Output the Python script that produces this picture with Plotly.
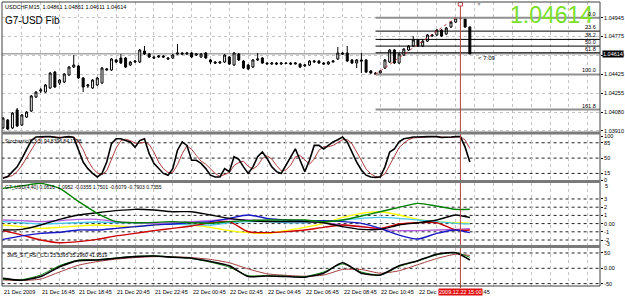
import plotly.graph_objects as go

# ---------------- data ----------------
bars = list(range(100))          # M15 bars, 21 Dec 2009 14:45 ... 22 Dec 2009 15:30
opens = [1.03935,1.04008,1.03935,1.04100,1.03962,1.04035,1.04090,1.04218,1.04273,1.04264,
 1.04301,1.04447,1.04347,1.04356,1.04420,1.04493,1.04503,1.04393,1.04319,1.04301,
 1.04329,1.04347,1.04466,1.04466,1.04558,1.04576,1.04576,1.04512,1.04539,1.04539,
 1.04640,1.04612,1.04585,1.04585,1.04594,1.04576,1.04576,1.04612,1.04622,1.04612,
 1.04622,1.04603,1.04585,1.04622,1.04558,1.04539,1.04530,1.04539,1.04585,1.04512,
 1.04612,1.04548,1.04512,1.04493,1.04558,1.04576,1.04530,1.04521,1.04530,1.04521,
 1.04530,1.04530,1.04521,1.04521,1.04503,1.04512,1.04539,1.04548,1.04530,1.04521,
 1.04539,1.04567,1.04622,1.04622,1.04558,1.04530,1.04558,1.04558,1.04457,1.04438,
 1.04438,1.04484,1.04539,1.04649,1.04530,1.04603,1.04649,1.04686,1.04741,1.04686,
 1.04731,1.04777,1.04787,1.04832,1.04796,1.04860,1.04905,1.04942,1.04933,1.04861]
highs = [1.04035,1.04017,1.04081,1.04118,1.04063,1.04090,1.04237,1.04273,1.04301,1.04338,
 1.04447,1.04457,1.04383,1.04438,1.04503,1.04603,1.04512,1.04402,1.04338,1.04383,
 1.04402,1.04493,1.04484,1.04576,1.04567,1.04612,1.04585,1.04548,1.04558,1.04658,
 1.04686,1.04622,1.04594,1.04603,1.04603,1.04585,1.04612,1.04704,1.04631,1.04631,
 1.04631,1.04622,1.04622,1.04631,1.04567,1.04548,1.04548,1.04612,1.04594,1.04631,
 1.04622,1.04558,1.04521,1.04567,1.04622,1.04585,1.04539,1.04539,1.04539,1.04539,
 1.04539,1.04539,1.04539,1.04530,1.04521,1.04558,1.04558,1.04558,1.04539,1.04548,
 1.04558,1.04676,1.04631,1.04686,1.04567,1.04567,1.04622,1.04567,1.04466,1.04447,
 1.04466,1.04567,1.04658,1.04658,1.04622,1.04667,1.04695,1.04777,1.04750,1.04741,
 1.04796,1.04796,1.04841,1.04841,1.04860,1.04915,1.04945,1.04945,1.04945,1.04861]
lows = [1.03925,1.03916,1.03925,1.03944,1.03953,1.04026,1.04081,1.04209,1.04255,1.04255,
 1.04292,1.04301,1.04329,1.04347,1.04411,1.04484,1.04383,1.04264,1.04301,1.04292,
 1.04319,1.04338,1.04457,1.04457,1.04530,1.04521,1.04484,1.04503,1.04530,1.04530,
 1.04603,1.04576,1.04567,1.04576,1.04576,1.04558,1.04567,1.04603,1.04603,1.04603,
 1.04576,1.04594,1.04576,1.04567,1.04521,1.04521,1.04521,1.04530,1.04512,1.04503,
 1.04548,1.04475,1.04466,1.04484,1.04548,1.04521,1.04521,1.04512,1.04512,1.04512,
 1.04521,1.04512,1.04516,1.04484,1.04493,1.04503,1.04530,1.04521,1.04512,1.04512,
 1.04534,1.04558,1.04603,1.04539,1.04521,1.04484,1.04438,1.04438,1.04429,1.04425,
 1.04429,1.04475,1.04530,1.04521,1.04521,1.04594,1.04640,1.04676,1.04676,1.04676,
 1.04722,1.04768,1.04777,1.04768,1.04787,1.04851,1.04896,1.04928,1.04851,1.04611]
closes = [1.04026,1.03925,1.04072,1.03953,1.04054,1.04081,1.04228,1.04264,1.04283,1.04329,
 1.04438,1.04310,1.04374,1.04429,1.04493,1.04512,1.04393,1.04310,1.04329,1.04374,
 1.04393,1.04484,1.04475,1.04567,1.04539,1.04530,1.04493,1.04539,1.04548,1.04649,
 1.04612,1.04585,1.04576,1.04594,1.04585,1.04567,1.04603,1.04622,1.04612,1.04622,
 1.04585,1.04612,1.04612,1.04576,1.04539,1.04530,1.04539,1.04603,1.04521,1.04622,
 1.04558,1.04484,1.04475,1.04558,1.04567,1.04530,1.04521,1.04530,1.04521,1.04530,
 1.04525,1.04521,1.04530,1.04493,1.04512,1.04548,1.04548,1.04530,1.04521,1.04539,
 1.04548,1.04622,1.04612,1.04548,1.04530,1.04558,1.04548,1.04447,1.04438,1.04429,
 1.04457,1.04558,1.04649,1.04530,1.04612,1.04658,1.04686,1.04741,1.04686,1.04731,
 1.04787,1.04787,1.04832,1.04777,1.04851,1.04905,1.04942,1.04937,1.04860,1.04614]

stoch_main = [4,8,19,30,49,71,90,98,99,99, 99,97,96,98,99,97,68,41,26,15,
 7,15,41,83,94,94,90,87,75,90, 94,60,38,26,15,11,26,68,87,79,
 45,45,38,26,11,7,7,26,19,53, 47,30,15,30,53,64,49,30,19,15,
 34,53,71,45,19,45,79,79,71,79, 87,92,98,87,64,41,23,11,7,6,
 7,30,64,71,87,94,96,98,98,99, 99,99,99,97,97,98,99,99,75,41]
stoch_signal = [6,7,10,19,33,50,70,86,96,99, 99,98,97,97,98,98,88,69,45,27,
 16,12,21,46,73,90,93,90,84,84, 86,81,64,41,26,17,17,35,60,78,
 70,56,43,36,25,15,8,13,17,33, 40,43,31,25,33,49,55,48,33,21,
 23,34,53,56,45,36,48,68,76,76, 79,86,92,92,83,64,43,25,14,8,
 7,14,34,55,74,84,92,96,97,98, 99,99,99,98,98,97,98,99,91,72]
stoch_levels = [85, 50, 15]

sample_bars = [0,4,8,12,16,20,24,28,32,36,40,44,48,52,56,60,64,68,72,76,80,84,88,92,96,99]
g7_green = [4.3,4.6,4.9,4.3,2.7,1.25,0.24,0.11,0.15,0.24,0.11,0.03,0.24,0.36,0.44,0.44,0.44,0.24,0.44,0.92,1.45,1.98,2.47,2.14,1.74,1.75]
g7_black = [-0.78,-0.70,-0.17,0.52,1.05,1.33,1.58,1.74,1.66,1.45,1.45,1.05,0.64,0.36,0.24,0.24,0.24,0.11,-0.37,-0.70,-0.70,-0.17,0.11,0.44,1.05,0.74]
g7_blue = [-1.92,-1.5,-1.19,-1.06,-0.78,-0.78,-0.58,-0.37,-0.17,-0.05,0.11,0.24,0.64,1.05,0.64,0.44,0.36,0.36,0.24,0.03,-0.58,-1.4,-1.88,-1.19,-0.78,-1.1]
g7_red = [-0.86,-1.4,-2.0,-2.33,-2.2,-1.92,-1.5,-1.19,-0.86,-0.58,-0.29,0.11,0.24,-1.0,-1.1,-0.98,-0.78,-0.46,-0.17,-0.37,-0.58,-0.05,0.11,0.11,-0.78,-0.79]
g7_yellow = [-0.17,-0.37,-0.58,-0.46,-0.29,-0.17,-0.29,-0.37,-0.17,0.03,-0.17,-0.46,-0.86,-1.1,-1.19,-0.86,-0.46,0.03,0.76,1.25,1.45,1.05,0.52,0.24,0.11,0.06]
g7_cyan = [0.24,0.11,-0.05,0.03,0.11,0.19,0.11,0.11,0.03,-0.05,-0.17,-0.17,0.11,0.24,0.24,0.11,0.11,0.24,0.44,0.64,0.76,0.64,0.44,0.24,0.03,-0.04]
g7_violet = [0.44,0.36,0.24,0.36,0.52,0.52,0.24,0.11,0.03,0.11,0.24,0.36,0.52,0.44,0.36,0.24,0.24,0.11,-0.17,-0.37,-0.70,-0.86,-0.86,-0.78,-0.70,-0.61]
g7_levels = [3, 2, 1, 0, -1, -2]

rsi_black = [-33,-39,-27,5,25,27,33,38,40,36,33,22,8,-27,-25,-27,-29,-16,18,-16,-22,8,25,46,51,27]
rsi_green = [-36,-37,-22,9,27,28,34,39,41,37,32,20,4,-24,-24,-26,-27,-12,14,-12,-22,6,24,44,51,36]
rsi_brown = [-38,-40,-35,-12,10,22,30,35,38,38,35,29,18,-2,-18,-23,-26,-22,-4,-4,-16,-8,12,32,46,42]
rsi_levels = [50, 0, -50]

fib_high, fib_low, fib_start_bar = 1.04945, 1.04425, 79
fib_top_bar = 96
fib_levels = [0.0, 23.6, 38.2, 50.0, 61.8, 100.0, 161.8]
bid = 1.04614
cursor_bar = 97

label_bars = [0, 8, 16, 24, 32, 40, 48, 56, 64, 72, 80, 88, 96]
time_labels = ["21 Dec 2009", "21 Dec 16:45", "21 Dec 18:45", "21 Dec 20:45", "21 Dec 22:45",
               "22 Dec 00:45", "22 Dec 02:45", "22 Dec 04:45", "22 Dec 06:45", "22 Dec 08:45",
               "22 Dec 10:45", "22 Dec 12:45", "22 Dec 14:45"]
price_ticks = [1.04945, 1.04775, 1.04600, 1.04425, 1.04255, 1.04080, 1.03910]

# ---------------- layout helpers ----------------
W, H = 625, 299
L, R, T, B = 2, 25, 2, 13
PW, PH = W - L - R, H - T - B
XMAX = 126.6
def pxx(x):  # pixel x -> paper
    return (x - L) / PW
def pxy(y):  # pixel y -> paper
    return (H - B - y) / PH

FONT = "Liberation Sans, Arial, sans-serif"
GRID = "#C4C4C4"

fig = go.Figure()
fig.add_trace(go.Candlestick(
    x=bars, open=opens, high=highs, low=lows, close=closes,
    increasing=dict(line=dict(color="black", width=1), fillcolor="white"),
    decreasing=dict(line=dict(color="black", width=1), fillcolor="black"),
    whiskerwidth=0, xaxis="x", yaxis="y", hoverinfo="skip"))

fig.add_trace(go.Scatter(x=bars, y=stoch_signal, mode="lines", line=dict(color="#B04040", width=1), xaxis="x", yaxis="y2"))
fig.add_trace(go.Scatter(x=bars, y=stoch_main, mode="lines", line=dict(color="black", width=1.6), xaxis="x", yaxis="y2"))

g7_series = [(g7_yellow, "#FFFF00"), (g7_cyan, "#48C8EC"), (g7_violet, "#B060E0"),
             (g7_red, "#CC0000"), (g7_blue, "#1818C8"), (g7_black, "#000000"), (g7_green, "#008000")]
for vals, col in g7_series:
    fig.add_trace(go.Scatter(x=sample_bars, y=vals, mode="lines", line=dict(color=col, width=1.4, shape="spline", smoothing=0.6),
                             xaxis="x", yaxis="y3"))

fig.add_trace(go.Scatter(x=sample_bars, y=rsi_brown, mode="lines", line=dict(color="#A03C3C", width=1, shape="spline", smoothing=0.6), xaxis="x", yaxis="y4"))
fig.add_trace(go.Scatter(x=sample_bars, y=rsi_green, mode="lines", line=dict(color="#108010", width=1, shape="spline", smoothing=0.6), xaxis="x", yaxis="y4"))
fig.add_trace(go.Scatter(x=sample_bars, y=rsi_black, mode="lines", line=dict(color="black", width=1.6, shape="spline", smoothing=0.6), xaxis="x", yaxis="y4"))

shapes = []
# indicator level lines
for lv in stoch_levels:
    shapes.append(dict(type="line", xref="x", yref="y2", x0=-0.3, x1=XMAX, y0=lv, y1=lv, line=dict(color="#202020", width=1, dash="dot"), layer="below"))
for lv in g7_levels:
    shapes.append(dict(type="line", xref="x", yref="y3", x0=-0.3, x1=XMAX, y0=lv, y1=lv, line=dict(color="#202020", width=1, dash="dot"), layer="below"))
for lv in rsi_levels:
    shapes.append(dict(type="line", xref="x", yref="y4", x0=-0.3, x1=XMAX, y0=lv, y1=lv, line=dict(color="#202020", width=1, dash="dot"), layer="below"))
# bid line
shapes.append(dict(type="line", xref="paper", yref="y", x0=0, x1=1, y0=bid, y1=bid, line=dict(color="#A8A8A8", width=1.5), layer="below"))
# fibonacci
for lv in fib_levels:
    p = fib_high - lv / 100.0 * (fib_high - fib_low)
    gray = lv in (0.0, 100.0, 161.8)
    shapes.append(dict(type="line", xref="x", yref="y", x0=fib_start_bar, x1=XMAX, y0=p, y1=p,
                       line=dict(color="#909090" if gray else "black", width=2 if gray else 1)))
shapes.append(dict(type="line", xref="x", yref="y", x0=fib_start_bar, x1=fib_top_bar, y0=fib_low, y1=fib_high,
                   line=dict(color="#C04040", width=1, dash="dot")))
# cursor line
shapes.append(dict(type="line", xref="x", yref="paper", x0=cursor_bar, x1=cursor_bar, y0=pxy(288), y1=pxy(4),
                   line=dict(color="#B84040", width=1)))
shapes.append(dict(type="rect", xref="x", yref="paper", x0=cursor_bar - 0.45, x1=cursor_bar + 0.45, y0=pxy(6), y1=pxy(2.5),
                   line=dict(color="#C04040", width=1), fillcolor="white"))
# frames and separators
shapes.append(dict(type="rect", xref="paper", yref="paper", x0=0, x1=1, y0=0, y1=1, line=dict(color="#404040", width=1)))
for ys in (133, 181.5, 246.5):
    shapes.append(dict(type="line", xref="paper", yref="paper", x0=0, x1=1, y0=pxy(ys), y1=pxy(ys),
                       line=dict(color="#7A7A7A", width=3)))

ann = []
def txt(x, y, s, size=6, color="black", xanchor="left", yanchor="middle", xref="paper", yref="paper", **kw):
    ann.append(dict(x=x, y=y, xref=xref, yref=yref, text=s, showarrow=False, xanchor=xanchor, yanchor=yanchor,
                    font=dict(family=FONT, size=size, color=color), borderpad=0, **kw))

txt(pxx(4), pxy(7), "USDCHF,M15  1.04861 1.04861 1.04611 1.04614", size=5.5)
txt(pxx(4), pxy(20), "G7-USD Fib", size=10)
txt(pxx(594), pxy(15.5), "1.04614", size=23, color="#7CE02A", xanchor="right")
for lv in fib_levels:
    p = fib_high - lv / 100.0 * (fib_high - fib_low)
    txt(XMAX - 0.6, p, "%.1f" % lv, size=5.5, xanchor="right", yanchor="bottom", xref="x", yref="y")
txt(100.6, 1.04576, "&lt; 7:09", size=6, xref="x", yref="y")
txt(pxx(479), pxy(4), "▼", size=6, color="#A0A0A0", xanchor="center")
txt(pxx(4), pxy(141), "Stochastic(5,3,3) 94.8396 84.1798", size=5)
txt(pxx(4), pxy(187), "G7_USD(4,40) 0.0616 -1.0952 -0.0355 1.7501 -0.6079 -0.7903 0.7355", size=5)
txt(pxx(6), pxy(255), "3MS_ST_RSI_CCI 25.5395 35.2960 41.9519", size=5)
# price box
txt(1.0, bid, "1.04614", size=5.5, color="white", xshift=2, yref="y", bgcolor="black")
txt(1.0, pxy(185.5), "5", size=5.5, xshift=4)
txt(1.0, pxy(243.5), "-3", size=5.5, xshift=4)
# time axis
for b, s in zip(label_bars, time_labels):
    txt(b, pxy(292), s, size=5.5, xref="x")
txt(cursor_bar, pxy(292), "2009.12.22 15:00", size=5.5, color="white", xanchor="center", xref="x", bgcolor="#E01010")

tickfont = dict(family=FONT, size=5.5, color="black")
fig.update_layout(
    width=W, height=H, margin=dict(l=L, r=R, t=T, b=B),
    paper_bgcolor="white", plot_bgcolor="white", showlegend=False, boxgap=0.4,
    shapes=shapes, annotations=ann,
    xaxis=dict(range=[-0.21, XMAX], anchor="y4", showgrid=True, gridcolor=GRID, griddash="dot", gridwidth=1,
               tickvals=list(range(0, 128, 4)), showticklabels=False, ticks="", zeroline=False,
               rangeslider=dict(visible=False), showline=False),
    yaxis=dict(domain=[pxy(132), pxy(2)], range=[1.03898, 1.05089], side="right", anchor="x",
               tickvals=price_ticks, ticktext=["%.5f" % v for v in price_ticks], tickfont=tickfont,
               showgrid=True, gridcolor=GRID, griddash="dot", ticks="outside", ticklen=2, tickcolor="black", zeroline=False),
    yaxis2=dict(domain=[pxy(180), pxy(134)], range=[0, 105], side="right", anchor="x",
                tickvals=[100, 85, 50, 15, 0], ticktext=["100", "85", "50", "15", "0"], tickfont=tickfont,
                showgrid=False, ticks="outside", ticklen=2, tickcolor="black", zeroline=False),
    yaxis3=dict(domain=[pxy(245), pxy(183)], range=[-2.61, 4.95], side="right", anchor="x",
                tickvals=[3, 2, 1, 0, -1, -2], ticktext=["3", "2", "1", "0.00", "-1", "-2"], tickfont=tickfont,
                showgrid=False, ticks="outside", ticklen=2, tickcolor="black", zeroline=False),
    yaxis4=dict(domain=[pxy(286), pxy(248)], range=[-57.8, 66.3], side="right", anchor="x",
                tickvals=[50, 0, -50], ticktext=["50", "0.00", "-50"], tickfont=tickfont,
                showgrid=False, ticks="outside", ticklen=2, tickcolor="black", zeroline=False),
)
fig.write_html("out.html")
